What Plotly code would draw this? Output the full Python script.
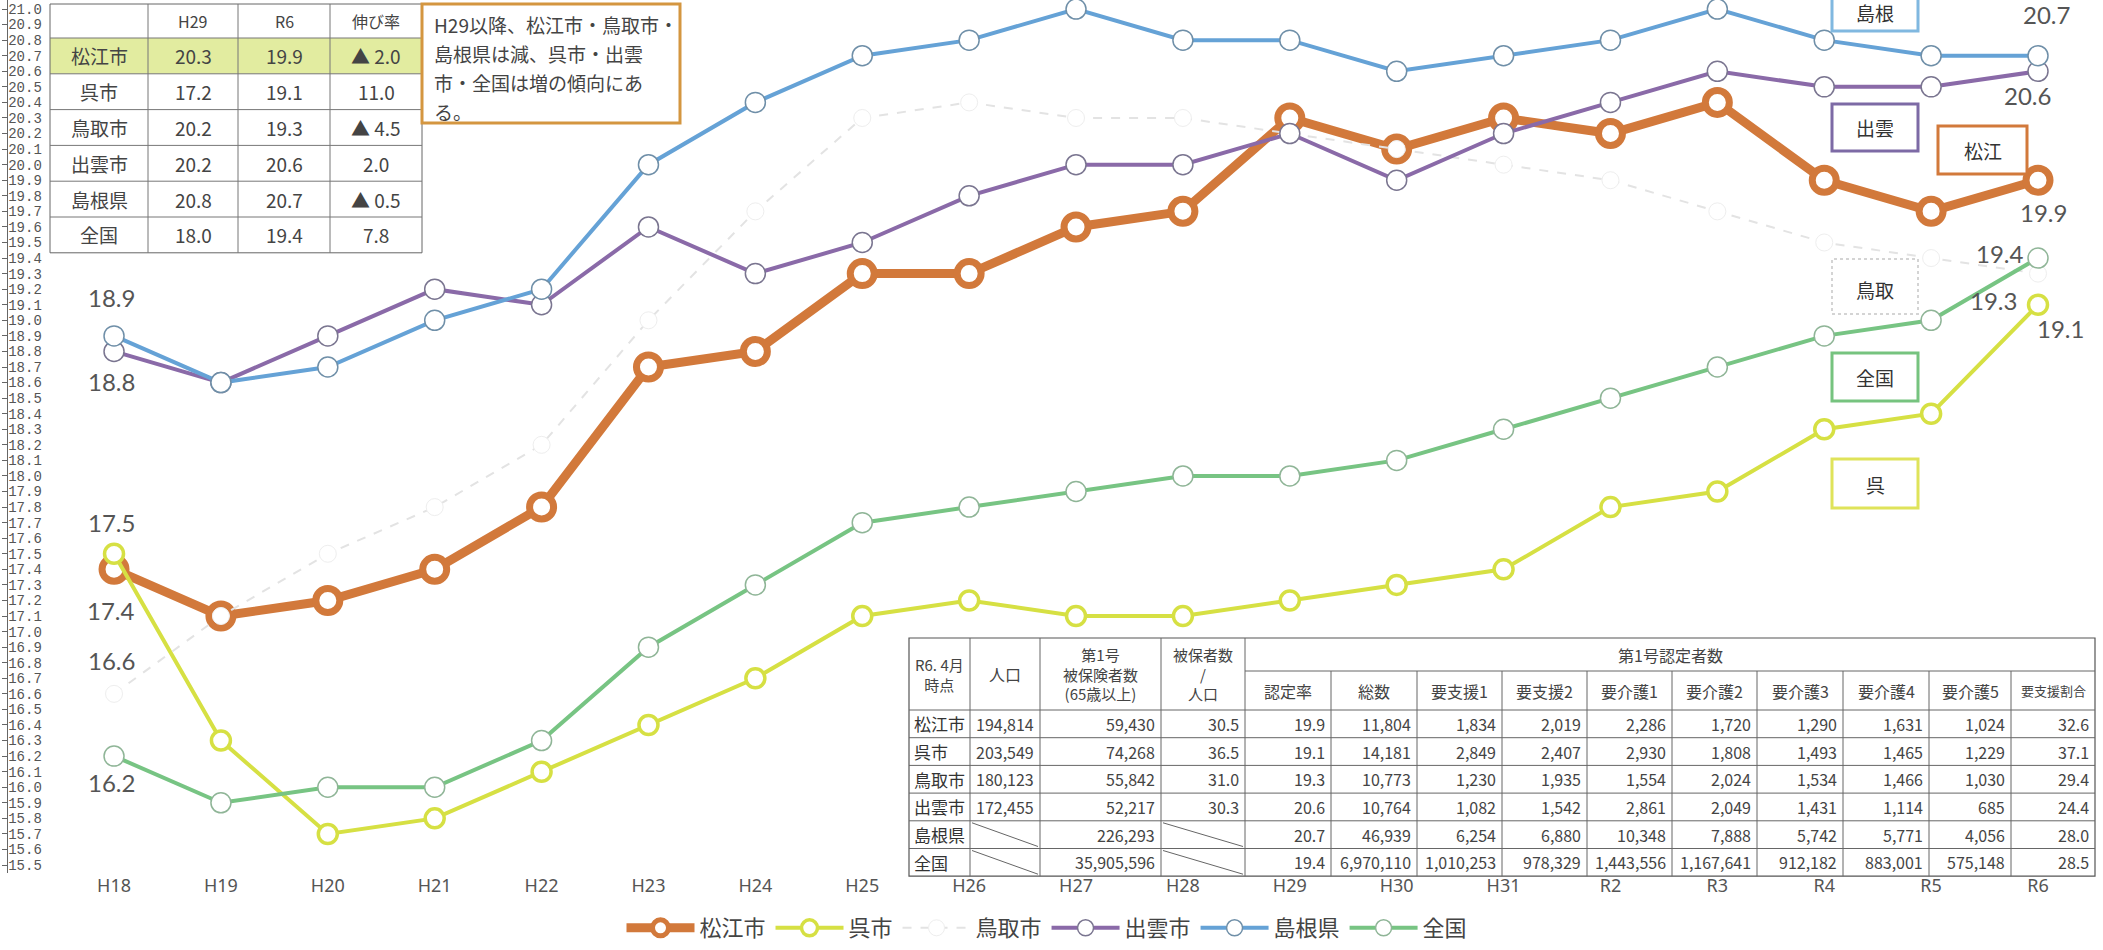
import plotly.graph_objects as go

# ---------------- data ----------------
years = ["H18", "H19", "H20", "H21", "H22", "H23", "H24", "H25", "H26", "H27",
         "H28", "H29", "H30", "H31", "R2", "R3", "R4", "R5", "R6"]

names = ["松江市", "呉市", "鳥取市", "出雲市", "島根県", "全国"]

matsue = [17.4, 17.1, 17.2, 17.4, 17.8, 18.7, 18.8, 19.3, 19.3, 19.6,
          19.7, 20.3, 20.1, 20.3, 20.2, 20.4, 19.9, 19.7, 19.9]
kure = [17.5, 16.3, 15.7, 15.8, 16.1, 16.4, 16.7, 17.1, 17.2, 17.1,
        17.1, 17.2, 17.3, 17.4, 17.8, 17.9, 18.3, 18.4, 19.1]
tottori = [16.6, 17.1, 17.5, 17.8, 18.2, 19.0, 19.7, 20.3, 20.4, 20.3,
           20.3, 20.2, 20.1, 20.0, 19.9, 19.7, 19.5, 19.4, 19.3]
izumo = [18.8, 18.6, 18.9, 19.2, 19.1, 19.6, 19.3, 19.5, 19.8, 20.0,
         20.0, 20.2, 19.9, 20.2, 20.4, 20.6, 20.5, 20.5, 20.6]
shimane = [18.9, 18.6, 18.7, 19.0, 19.2, 20.0, 20.4, 20.7, 20.8, 21.0,
           20.8, 20.8, 20.6, 20.7, 20.8, 21.0, 20.8, 20.7, 20.7]
zenkoku = [16.2, 15.9, 16.0, 16.0, 16.3, 16.9, 17.3, 17.7, 17.8, 17.9,
           18.0, 18.0, 18.1, 18.3, 18.5, 18.7, 18.9, 19.0, 19.4]

series = {"松江市": matsue, "呉市": kure, "鳥取市": tottori,
          "出雲市": izumo, "島根県": shimane, "全国": zenkoku}

# summary table: H29 vs R6 and rate of change (▲ = decrease)
growth = ["▲ 2.0", "11.0", "▲ 4.5", "2.0", "▲ 0.5", "7.8"]

# R6.4 detail table
pop = ["194,814", "203,549", "180,123", "172,455", "", ""]
insured = ["59,430", "74,268", "55,842", "52,217", "226,293", "35,905,596"]
ins_ratio = ["30.5", "36.5", "31.0", "30.3", "", ""]
total = ["11,804", "14,181", "10,773", "10,764", "46,939", "6,970,110"]
shien1 = ["1,834", "2,849", "1,230", "1,082", "6,254", "1,010,253"]
shien2 = ["2,019", "2,407", "1,935", "1,542", "6,880", "978,329"]
kaigo1 = ["2,286", "2,930", "1,554", "2,861", "10,348", "1,443,556"]
kaigo2 = ["1,720", "1,808", "2,024", "2,049", "7,888", "1,167,641"]
kaigo3 = ["1,290", "1,493", "1,534", "1,431", "5,742", "912,182"]
kaigo4 = ["1,631", "1,465", "1,466", "1,114", "5,771", "883,001"]
kaigo5 = ["1,024", "1,229", "1,030", "685", "4,056", "575,148"]
shien_share = ["32.6", "37.1", "29.4", "24.4", "28.0", "28.5"]

yticks = [round(15.5 + 0.1 * i, 1) for i in range(56)]

# ---------------- styling ----------------
CJK = "Noto Sans CJK JP"
NUM = "Lato"
GREY = "#555555"

styles = {
    "松江市": dict(color="#d2793b", width=9, dash="solid", msize=24, mline=7, mcol="#d2793b"),
    "呉市": dict(color="#d6e043", width=4, dash="solid", msize=19, mline=3.5, mcol="#d6e043"),
    "鳥取市": dict(color="#e3e3e3", width=2, dash="dash", msize=17, mline=1, mcol="#eeeeee"),
    "出雲市": dict(color="#8a6aa8", width=4, dash="solid", msize=20, mline=1.5, mcol="#7a7590"),
    "島根県": dict(color="#65a2d6", width=4, dash="solid", msize=20, mline=1.5, mcol="#6f8fa8"),
    "全国": dict(color="#77c483", width=4, dash="solid", msize=20, mline=1.5, mcol="#8fb597"),
}

FW, FH = 2103, 950
L, R, T, B = 8, 0, 0, 77
PW, PH = FW - L - R, FH - T - B


def px(X):
    return (X - L) / PW


def py(Y):
    return 1 - (Y - T) / PH


fig = go.Figure()
for n in names:
    s = styles[n]
    fig.add_trace(go.Scatter(
        x=years, y=series[n], name=n, mode="lines+markers",
        line=dict(color=s["color"], width=s["width"], dash=s["dash"]),
        marker=dict(symbol="circle", size=s["msize"], color="white",
                    line=dict(color=s["mcol"], width=s["mline"])),
        cliponaxis=False,
    ))

shapes = []
annotations = []


def rect(x0, y0, x1, y1, color, width=1, fill="rgba(0,0,0,0)", dash="solid", layer="above"):
    shapes.append(dict(type="rect", xref="paper", yref="paper",
                       x0=px(x0), x1=px(x1), y0=py(y1), y1=py(y0),
                       line=dict(color=color, width=width, dash=dash),
                       fillcolor=fill, layer=layer))


def seg(x0, y0, x1, y1, color="#555", width=1):
    shapes.append(dict(type="line", xref="paper", yref="paper",
                       x0=px(x0), y0=py(y0), x1=px(x1), y1=py(y1),
                       line=dict(color=color, width=width), layer="above"))


def text(X, Y, s, size, color="#444", xanchor="center", family=CJK, yanchor="middle"):
    annotations.append(dict(xref="paper", yref="paper", x=px(X), y=py(Y), text=s,
                            showarrow=False, xanchor=xanchor, yanchor=yanchor,
                            font=dict(family=family, size=size, color=color)))


# ----- end-point value labels -----
def value_label(n, idx, dx, dy):
    v = series[n][idx]
    annotations.append(dict(x=years[idx], y=v, xref="x", yref="y", text=f"{v:.1f}",
                            showarrow=False, xshift=dx, yshift=dy,
                            font=dict(family=NUM, size=24, color=GREY)))


value_label("島根県", 0, -3, 38)
value_label("出雲市", 0, -3, -30)
value_label("呉市", 0, -3, 31)
value_label("松江市", 0, -3, -41)
value_label("鳥取市", 0, -3, 33)
value_label("全国", 0, -3, -26)

last = len(years) - 1
value_label("島根県", last, 8, 41)
value_label("出雲市", last, -11, -24)
value_label("松江市", last, 5, -32)
value_label("全国", last, -38, 5)
value_label("鳥取市", last, -45, -27)
value_label("呉市", last, 22, -24)

# ----- series name boxes on the right -----
box_specs = [
    ("島根", 1832, -6, 1918, 31, "#80b8e0", "solid", 3, 13),
    ("出雲", 1832, 104, 1918, 151, "#7d6aa5", "solid", 3, 127),
    ("松江", 1938, 126, 2027, 174, "#d2793b", "solid", 3, 150),
    ("鳥取", 1832, 259, 1918, 314, "#d4d4d4", "dot", 2, 290),
    ("全国", 1832, 353, 1918, 401, "#76c37f", "solid", 3, 377),
    ("呉", 1832, 459, 1918, 508, "#dfe35a", "solid", 3, 484),
]
for lab, x0, y0, x1, y1, col, dash, w, ty in box_specs:
    rect(x0, y0, x1, y1, col, width=w, fill="white", dash=dash)
    text((x0 + x1) / 2, ty, lab, 19, color="#333")

# ----- summary table (top-left) -----
tcols = [50, 148, 238, 330, 422]
ttop, thead, trow = 4, 38, 35.8
tbot = thead + trow * len(names)
i29 = years.index("H29")
rect(tcols[0], thead, tcols[-1], thead + trow, "rgba(0,0,0,0)", width=0,
     fill="rgb(226,236,160)", layer="below")
rect(tcols[0], ttop, tcols[-1], tbot, "#666", width=1)
for c in tcols[1:-1]:
    seg(c, ttop, c, tbot, "#777")
seg(tcols[0], thead, tcols[-1], thead, "#777")
for r in range(1, len(names)):
    seg(tcols[0], thead + trow * r, tcols[-1], thead + trow * r, "#777")
for j, h in enumerate(["H29", "R6", "伸び率"]):
    text((tcols[j + 1] + tcols[j + 2]) / 2, (ttop + thead) / 2, h, 16, color="#444")
for r, n in enumerate(names):
    yc = thead + trow * (r + 0.5)
    text((tcols[0] + tcols[1]) / 2, yc, n, 19, color="#444")
    text((tcols[1] + tcols[2]) / 2, yc, f"{series[n][i29]:.1f}", 19, color="#444")
    text((tcols[2] + tcols[3]) / 2, yc, f"{series[n][last]:.1f}", 19, color="#444")
    text((tcols[3] + tcols[4]) / 2, yc, growth[r], 19, color="#444")

# ----- note box -----
rect(422, 4, 680, 123, "#d49640", width=3, fill="white")
note_lines = ["H29以降、松江市・鳥取市・", "島根県は減、呉市・出雲",
              "市・全国は増の傾向にあ", "る。"]
for k, ln in enumerate(note_lines):
    text(432, 24 + 29 * k, ln, 19, color="#444", xanchor="left")

# ----- detail table (bottom-right) -----
dcols = [909, 970, 1040, 1161, 1245, 1331, 1417, 1502, 1587, 1672, 1757, 1843, 1929, 2011, 2095]
dtop, dsub, dhead, drow = 638, 671, 710, 27.7
dbot = dhead + drow * len(names)
rect(dcols[0], dtop, dcols[-1], dbot, "#555", width=1.2)
for c in dcols[1:5]:
    seg(c, dtop, c, dbot, "#666")
for c in dcols[5:-1]:
    seg(c, dsub, c, dbot, "#666")
seg(dcols[4], dsub, dcols[-1], dsub, "#666")
seg(dcols[0], dhead, dcols[-1], dhead, "#666")
for r in range(1, len(names)):
    seg(dcols[0], dhead + drow * r, dcols[-1], dhead + drow * r, "#666")

hy = (dtop + dhead) / 2
text((dcols[0] + dcols[1]) / 2, hy, "R6. 4月<br>時点", 15, color="#444")
text((dcols[1] + dcols[2]) / 2, hy, "人口", 16, color="#444")
text((dcols[2] + dcols[3]) / 2, hy, "第1号<br>被保険者数<br>(65歳以上)", 15, color="#444")
text((dcols[3] + dcols[4]) / 2, hy, "被保者数<br>/<br>人口", 15, color="#444")
text((dcols[4] + dcols[-1]) / 2, (dtop + dsub) / 2, "第1号認定者数", 16, color="#444")
subheads = ["認定率", "総数", "要支援1", "要支援2", "要介護1", "要介護2",
            "要介護3", "要介護4", "要介護5", "要支援割合"]
for j, h in enumerate(subheads):
    sz = 13 if len(h) > 4 else 16
    text((dcols[4 + j] + dcols[5 + j]) / 2, (dsub + dhead) / 2, h, sz, color="#444")

rate = [f"{series[n][last]:.1f}" for n in names]
row_cols = [pop, insured, ins_ratio, rate, total, shien1, shien2,
            kaigo1, kaigo2, kaigo3, kaigo4, kaigo5, shien_share]
for r, n in enumerate(names):
    yc = dhead + drow * (r + 0.5)
    text(dcols[0] + 3, yc, n, 17, color="#333", xanchor="left")
    for j, col in enumerate(row_cols):
        if col[r]:
            text(dcols[j + 2] - 4, yc, col[r], 16, color="#444", xanchor="right")
        else:
            y0, y1 = dhead + drow * r, dhead + drow * (r + 1)
            seg(dcols[j + 1] + 2, y0 + 2, dcols[j + 2] - 2, y1 - 2, "#666")

fig.update_layout(
    width=FW, height=FH, autosize=False,
    margin=dict(l=L, r=R, t=T, b=B),
    paper_bgcolor="white", plot_bgcolor="white",
    showlegend=True,
    legend=dict(orientation="h", x=px(1047), xanchor="center", y=py(928), yanchor="middle",
                font=dict(family=CJK, size=22, color="#444"), itemwidth=68,
                bgcolor="rgba(0,0,0,0)"),
    xaxis=dict(type="category", range=[-0.992, 18.608], showgrid=False, zeroline=False,
               showline=False, ticks="", tickfont=dict(family="Noto Sans", size=18, color=GREY),
               fixedrange=True),
    yaxis=dict(range=[15.449, 21.058], tickvals=yticks, ticktext=[f"{v:.1f}" for v in yticks],
               ticklabelposition="inside", ticklabeloverflow="allow", ticks="outside", ticklen=5,
               tickcolor="#666", showline=True, linecolor="#666", linewidth=1,
               showgrid=False, zeroline=False,
               tickfont=dict(family="Liberation Mono", size=14, color=GREY), fixedrange=True),
    shapes=shapes,
    annotations=annotations,
)

fig.write_html("out.html")
